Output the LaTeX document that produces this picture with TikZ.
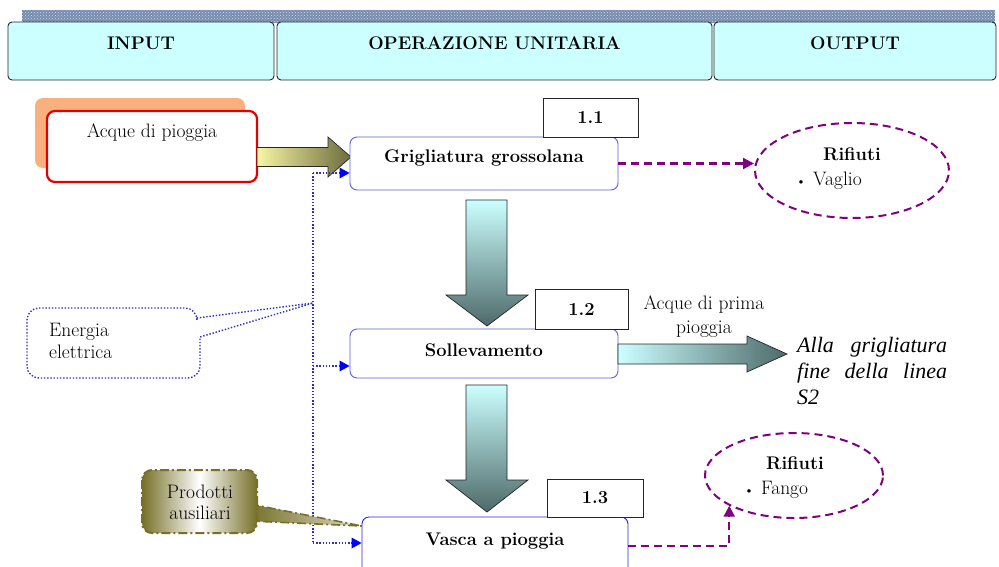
\documentclass[tikz,border=0pt]{standalone}
\usepackage{fontspec}
\newfontfamily\tnr{Liberation Serif}
\usetikzlibrary{arrows.meta,calc,shapes.geometric,patterns}
\definecolor{hdrfill}{RGB}{204,255,255}
\definecolor{band}{RGB}{118,140,175}
\definecolor{shadoworange}{RGB}{247,176,126}
\definecolor{redb}{RGB}{228,0,0}
\definecolor{boxblue}{RGB}{95,95,225}
\definecolor{vascablue}{RGB}{40,40,225}
\definecolor{purp}{RGB}{128,0,128}
\definecolor{dotblue}{RGB}{45,45,200}
\definecolor{tipblue}{RGB}{0,0,255}
\definecolor{olivedark}{RGB}{118,112,40}
\definecolor{arrowyellow}{RGB}{246,246,165}
\definecolor{arrowolive}{RGB}{108,108,62}
\definecolor{cyanlight}{RGB}{204,255,255}
\definecolor{slate}{RGB}{78,106,106}
\tikzset{
  tx/.style={font=\fontsize{19.5}{21}\selectfont, inner sep=0pt},
  txb/.style={font=\fontsize{18.3}{21}\selectfont\bfseries, inner sep=0pt},
  hdr/.style={draw=black!85, fill=hdrfill, rounded corners=4, line width=0.9, minimum height=58},
  proc/.style={draw=boxblue, fill=white, rounded corners=7, line width=0.9},
  numbox/.style={draw=black!85, fill=white, line width=0.9, font=\fontsize{18.3}{21}\selectfont\bfseries},
  rif/.style={ellipse, draw=purp, line width=2, dash pattern=on 8pt off 5pt, inner sep=0pt},
  pline/.style={draw=purp, line width=2.2, dash pattern=on 8pt off 5pt, -{Triangle[length=11,width=11]}},
  bdot/.style={draw=dotblue, line width=1.6, dash pattern=on 1.4pt off 1.8pt},
  btip/.style={bdot, -{Triangle[length=10,width=11,fill=tipblue,line width=0]}},
  fat/.style={draw=black!85, line width=0.7},
  ital/.style={anchor=base west, inner sep=0pt, font=\tnr\itshape\fontsize{22}{25}\selectfont},
}
\begin{document}
\begin{tikzpicture}[x=1pt,y=-1pt]
\useasboundingbox (0,0) rectangle (999,566);
\fill[white] (0,0) rectangle (999,566);

% header
\fill[band] (22,10) rectangle (995,23);
\fill[pattern=crosshatch dots, pattern color=white!70!band] (22,10) rectangle (995,23);
\node[hdr, minimum width=266] (hin) at (141,51) {};
\node[hdr, minimum width=435] (hop) at (494.5,51) {};
\node[hdr, minimum width=282] (hout) at (855,51) {};
\node[txb] (tin) at (141,43) {INPUT};
\node[txb] (top) at (494.5,43) {OPERAZIONE UNITARIA};
\node[txb] (tout) at (855,43) {OUTPUT};

% input box
\fill[shadoworange, rounded corners=8] (35,98) rectangle (245,168);
\node[draw=redb, line width=2.2, rounded corners=8, fill=white, minimum width=210, minimum height=71] (acq) at (152,146.5) {};
\node[tx] (tacq) at (152,133) {Acque di pioggia};

% fat arrow input -> grigliatura
\shadedraw[fat, left color=arrowyellow, right color=arrowolive]
  (257,147.5) -- (328,147.5) -- (328,137) -- (351,157) -- (328,177) -- (328,166.5) -- (257,166.5) -- cycle;

% process 1.1
\node[proc, minimum width=268, minimum height=53] (grig) at (484,163.5) {};
\node[txb] (tgrig) at (484,158) {Grigliatura grossolana};
\node[numbox, minimum width=95, minimum height=39] (n11) at (590.5,117.5) {1.1};

% rifiuti 1
\node[rif, minimum width=194, minimum height=95] (rif1) at (852,170.5) {};
\node[txb] (trif1) at (852,154) {Rifiuti};
\node[tx, anchor=west] (tvag) at (796,181) {{\fontsize{13}{13}\selectfont\textbullet}\hspace{7pt}Vaglio};
\draw[pline] (grig.east) -- (grig.east -| rif1.west);

% down arrow 1
\shadedraw[fat, top color=cyanlight, bottom color=slate]
  (466,200) -- (507,200) -- (507,295) -- (528,295) -- (487,326) -- (446,295) -- (466,295) -- cycle;

% process 1.2
\node[proc, minimum width=268, minimum height=49] (soll) at (484,353.5) {};
\node[txb] (tsoll) at (484,350) {Sollevamento};
\node[numbox, minimum width=93, minimum height=40] (n12) at (581.5,309) {1.2};

% right arrow
\shadedraw[fat, left color=cyanlight, right color=slate]
  (618,344) -- (747,344) -- (747,336) -- (787,354) -- (747,372) -- (747,364) -- (618,364) -- cycle;
\node[tx, align=center, font=\fontsize{19.5}{24}\selectfont] (tprima) at (704,317) {Acque di prima\\pioggia};
\node[ital] (l1) at (797,352) {\makebox[150pt][s]{Alla grigliatura}};
\node[ital] (l2) at (797,378) {\makebox[150pt][s]{fine della linea}};
\node[ital] (l3) at (797,404) {S2};

% down arrow 2
\shadedraw[fat, top color=cyanlight, bottom color=slate]
  (466,385) -- (507,385) -- (507,480) -- (528,480) -- (487,512) -- (446,480) -- (466,480) -- cycle;

% process 1.3
\node[proc, draw=vascablue, minimum width=266, minimum height=58] (vasca) at (495,546) {};
\node[txb] (tvasca) at (495,541) {Vasca a pioggia};
\node[numbox, minimum width=96, minimum height=38] (n13) at (595,498) {1.3};

% rifiuti 2
\node[rif, minimum width=178, minimum height=85] (rif2) at (794,475.5) {};
\node[txb] (trif2) at (795,463) {Rifiuti};
\node[tx, anchor=west] (tfan) at (744,490) {{\fontsize{13}{13}\selectfont\textbullet}\hspace{7pt}Fango};
\draw[pline] (vasca.east) -| (rif2.205);

% energia elettrica
\coordinate (vtop) at (313,173);
\coordinate (vmid) at (313,366);
\coordinate (vbot) at (313,543);
\coordinate (ctip) at (313,303);
\draw[bdot] (vtop) -- (vbot);
\draw[btip] (vtop) -- (vtop -| grig.west);
\draw[btip] (vmid) -- (vmid -| soll.west);
\draw[btip] (vbot) -- (vbot -| vasca.west);
\draw[bdot, line width=1.4] (27,330) [rounded corners=12] -- (27,308) -- (197,308) [sharp corners] -- (197,318) -- (ctip) -- (200,337) [rounded corners=12] -- (200,378) -- (27,378) -- (27,330);
\node[tx, anchor=west, align=left, font=\fontsize{19.5}{22}\selectfont] (energia) at (49,341) {Energia\\elettrica};

% prodotti ausiliari
\coordinate (ptip) at (362,526);
\shadedraw[left color=olivedark, right color=olivedark!25, draw=olivedark, line width=1.6, dash pattern=on 9pt off 3pt on 2pt off 3pt] (250,504) -- (ptip) -- (250,521) -- cycle;
\shadedraw[left color=olivedark, right color=olivedark, middle color=white, draw=olivedark, line width=2, dash pattern=on 9pt off 3pt on 2pt off 3pt, rounded corners=10] (142,470) rectangle (257,533);
\node[tx, align=center, font=\fontsize{19.5}{21}\selectfont] (prod) at (200,502) {Prodotti\\ausiliari};
\end{tikzpicture}
\end{document}
